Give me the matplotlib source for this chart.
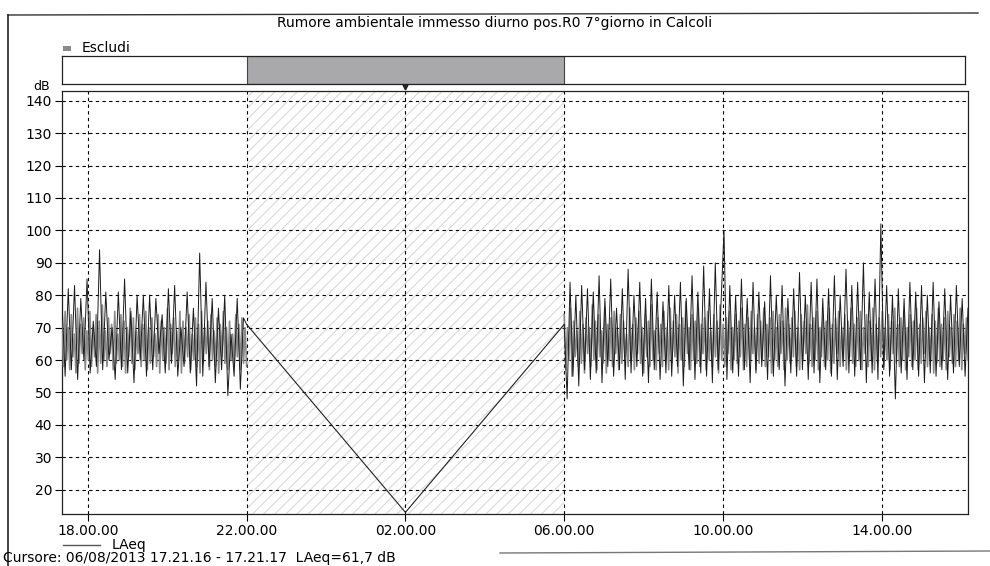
import numpy as np
import matplotlib
matplotlib.use('Agg')
import matplotlib.pyplot as plt
from matplotlib.lines import Line2D

plt.rcParams['font.family'] = ['DejaVu Sans']
plt.rcParams['hatch.linewidth'] = 0.8

# chart texts
title = 'Rumore ambientale immesso diurno pos.R0 7°giorno in Calcoli'
cursor_text = 'Cursore: 06/08/2013 17.21.16 - 17.21.17  LAeq=61,7 dB'

# x axis in hours from midnight of the first day (26 = 02:00, 30 = 06:00 ...)
tick_hours = [18, 22, 26, 30, 34, 38]
tick_labels = ['18.00.00', '22.00.00', '02.00.00', '06.00.00', '10.00.00', '14.00.00']
x_start, x_end = 17.35, 40.17
excl_start, excl_end = 22, 30

# interpolated line across the excluded night period
gap_hours = [22, 26, 30]
gap_values = [71, 13, 71]

# LAeq samples, evening segment (17.21 -> 22.00)
left_grey = [
    72, 58, 75, 60, 70, 57, 74, 61, 68, 56, 76, 59, 71, 62, 73, 57, 69, 60, 75, 58,
    70, 61, 74, 56, 72, 59, 77, 60, 69, 58, 73, 62, 71, 57, 75, 59, 68, 60, 74, 58,
    72, 56, 70, 61, 76, 59, 73, 57, 69, 62, 74, 58, 71, 60, 75, 57, 70, 59, 73, 61,
    68, 58, 74, 56, 72, 60, 70, 59, 76, 57, 71, 62, 73, 58, 69, 60, 75, 56, 72, 59,
    70, 61, 74, 57, 68, 60, 73, 58, 71, 56, 75, 59, 70, 62, 72, 57, 74, 60, 69, 58,
    73, 56, 71, 61, 75, 59, 70, 57, 72, 60, 68, 58, 74, 61, 71, 57, 73, 59, 70, 58,
]
left_dark = [
    78, 55, 82, 57, 83, 54, 79, 60, 85, 56, 72, 58, 94, 57, 81, 60, 70, 54, 81, 57,
    85, 56, 75, 53, 80, 60, 80, 55, 80, 57, 79, 62, 74, 56, 82, 59, 83, 55, 70, 58,
    81, 56, 76, 52, 93, 55, 84, 58, 79, 53, 76, 57, 80, 49, 68, 55, 79, 51, 73, 71,
]

# LAeq samples, day segment (06.00 -> 16.10)
right_grey = [
    74, 57, 70, 60, 76, 55, 72, 61, 69, 58, 75, 59, 71, 56, 73, 62, 70, 58, 77, 60,
    72, 57, 74, 61, 69, 59, 76, 56, 71, 60, 73, 58, 75, 62, 70, 57, 74, 59, 72, 61,
    68, 58, 76, 60, 71, 57, 73, 62, 75, 59, 70, 56, 74, 61, 72, 58, 77, 60, 69, 57,
    73, 62, 71, 58, 75, 60, 70, 57, 76, 59, 72, 61, 74, 56, 71, 60, 73, 58, 78, 62,
    70, 57, 74, 60, 72, 59, 76, 58, 71, 62, 73, 57, 75, 60, 69, 58, 74, 61, 72, 56,
    77, 60, 71, 58, 73, 62, 75, 57, 70, 60, 74, 59, 72, 61, 76, 57, 71, 58, 73, 60,
    75, 62, 70, 57, 74, 59, 72, 60, 76, 58, 71, 61, 73, 56, 75, 60, 70, 58, 74, 62,
    72, 57, 76, 60, 71, 59, 73, 61, 75, 58, 70, 57, 74, 60, 72, 62, 77, 59, 71, 58,
    73, 60, 75, 57, 70, 61, 74, 58, 72, 60, 76, 56, 71, 59, 73, 62, 75, 58, 70, 60,
    74, 57, 72, 61, 76, 59, 71, 58, 73, 60, 75, 57, 70, 62, 74, 58, 72, 60, 76, 57,
    71, 59, 73, 61, 75, 58, 70, 60, 74, 57, 72, 62, 76, 59, 71, 58, 73, 60, 75, 57,
    70, 61, 74, 58, 72, 60, 76, 57, 71, 59, 73, 62, 75, 58, 70, 60, 74, 56, 72, 59,
    76, 58, 71, 60, 73, 57, 75, 61, 70, 59, 74, 58, 72, 60, 76, 57, 71, 62, 73, 60,
]
right_dark = [
    71, 48, 84, 55, 80, 52, 83, 57, 82, 54, 81, 56, 86, 53, 79, 58, 85, 55, 76, 57,
    82, 54, 88, 56, 80, 58, 84, 55, 79, 53, 85, 57, 81, 54, 78, 56, 83, 55, 80, 58,
    84, 52, 79, 57, 86, 54, 81, 56, 89, 55, 82, 53, 90, 57, 78, 100, 54, 83, 56, 80,
    55, 85, 57, 79, 53, 84, 56, 81, 58, 78, 54, 86, 55, 80, 57, 83, 52, 79, 56, 82,
    55, 87, 57, 80, 54, 84, 56, 85, 53, 79, 57, 82, 55, 86, 54, 80, 58, 88, 56, 83,
    55, 84, 57, 90, 53, 81, 56, 85, 54, 102, 57, 83, 55, 80, 48, 82, 56, 79, 54, 84,
    57, 81, 55, 83, 53, 80, 56, 84, 55, 78, 57, 82, 54, 80, 56, 83, 58, 79, 55, 76,
]

W, H = 990, 566
fig = plt.figure(figsize=(W / 100, H / 100), dpi=100)

def fx(px):
    return px / W

def fy(py):
    return 1 - py / H

# outer frame of the report page
fig.add_artist(Line2D([fx(8), fx(978)], [fy(15), fy(13)], color='#333333', lw=1.0))
fig.add_artist(Line2D([fx(8), fx(8)], [fy(15), fy(566)], color='#222222', lw=1.2))
fig.add_artist(Line2D([fx(500), fx(990)], [fy(553), fy(551)], color='#777777', lw=1.0))

fig.text(0.5, fy(23), title, ha='center', va='center', fontsize=10)

# exclusion strip
ax_ex = fig.add_axes([fx(62), fy(84), fx(965 - 62), (84 - 56) / H])
ax_ex.set_xlim(x_start, x_end - (968 - 965) / (968 - 62) * (x_end - x_start))
ax_ex.set_ylim(0, 1)
ax_ex.axvspan(excl_start, excl_end, facecolor='#a9a9ab', edgecolor='#444444', lw=0.8)
ax_ex.set_xticks([])
ax_ex.set_yticks([])
for s in ax_ex.spines.values():
    s.set_color('#222222')
    s.set_linewidth(0.9)

fig.patches.append(plt.Rectangle((fx(63), fy(51)), fx(8), 5 / H, transform=fig.transFigure,
                                 facecolor='#8a8a8e', edgecolor='none'))
fig.text(fx(82), fy(48), 'Escludi', ha='left', va='center', fontsize=10)

# main plot
ax = fig.add_axes([fx(62), fy(514), fx(968 - 62), (514 - 91) / H])
ax.set_xlim(x_start, x_end)
ax.set_ylim(12.5, 143)

ax.axvspan(excl_start, excl_end, facecolor='none', edgecolor='#d9d9d9', hatch='///', lw=0, zorder=0)

ax.set_yticks(np.arange(20, 141, 10))
ax.set_xticks(tick_hours)
ax.set_xticklabels(tick_labels)
ax.grid(True, color='black', linestyle=(0, (3, 3)), linewidth=0.8)
ax.set_axisbelow(True)
ax.tick_params(axis='both', labelsize=10, length=5, width=0.8, color='black')
ax.tick_params(axis='x', pad=2)
ax.tick_params(axis='y', pad=2)
for s in ax.spines.values():
    s.set_color('#222222')
    s.set_linewidth(0.9)

t_left_g = np.linspace(x_start, excl_start, len(left_grey))
t_left_d = np.linspace(x_start, excl_start, len(left_dark))
t_right_g = np.linspace(excl_end, x_end, len(right_grey))
t_right_d = np.linspace(excl_end, x_end, len(right_dark))

ax.plot(t_left_g, left_grey, color='#8a8a8a', lw=1.2, zorder=3)
ax.plot(t_right_g, right_grey, color='#8a8a8a', lw=1.2, zorder=3)
ax.plot(t_left_d, left_dark, color='#1c1c1c', lw=0.7, zorder=4)
ax.plot(t_right_d, right_dark, color='#1c1c1c', lw=0.7, zorder=4)
ax.plot(gap_hours, gap_values, color='#222222', lw=0.8, zorder=4)

# small cursor marker above the plot
ax.plot([26], [144.2], marker='v', ms=3.5, color='#222222', clip_on=False)

fig.text(fx(33), fy(87), 'dB', ha='left', va='center', fontsize=9)

# legend and cursor line
fig.add_artist(Line2D([fx(63), fx(100)], [fy(545), fy(545)], color='#555555', lw=1.0))
fig.text(fx(112), fy(545), 'LAeq', ha='left', va='center', fontsize=10)
fig.text(fx(3), fy(558), cursor_text, ha='left', va='center', fontsize=10)

fig.savefig('out.png', dpi=100)
